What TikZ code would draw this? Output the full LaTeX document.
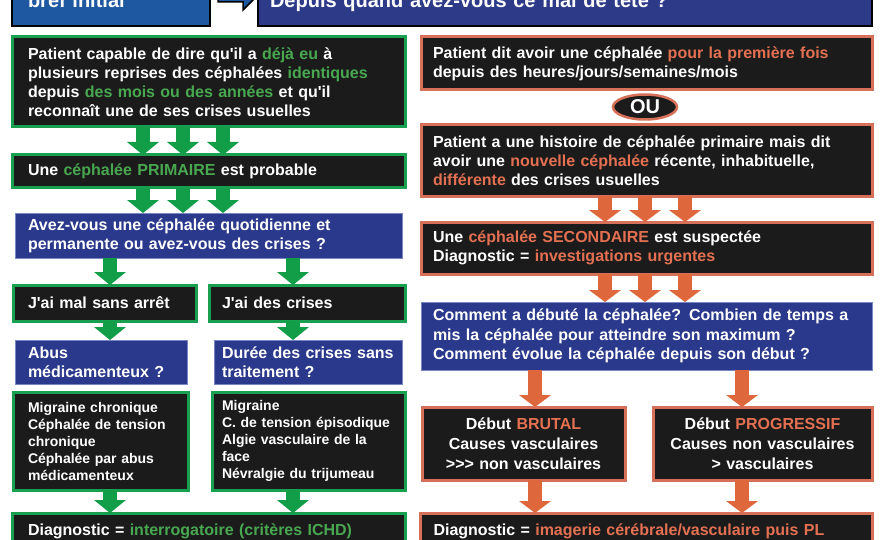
\documentclass[tikz,border=0pt]{standalone}
\usepackage{fontspec}
\setmainfont{Liberation Sans}[Ligatures=TeXOff]
\usetikzlibrary{arrows.meta,shapes.geometric}
\definecolor{boxblack}{RGB}{27,27,27}
\definecolor{ggreen}{RGB}{24,160,80}
\definecolor{gtext}{RGB}{72,168,80}
\definecolor{garrowc}{RGB}{18,158,72}
\definecolor{oborder}{RGB}{214,112,88}
\definecolor{otext}{RGB}{228,112,82}
\definecolor{oarrowc}{RGB}{222,104,60}
\definecolor{indigo}{RGB}{42,57,140}
\definecolor{bborder}{RGB}{120,135,195}
\definecolor{hdrleft}{RGB}{30,88,160}
\definecolor{hdrright}{RGB}{44,58,136}
\newcommand{\gtx}[1]{\textcolor{gtext}{#1}}
\newcommand{\otx}[1]{\textcolor{otext}{#1}}
\begin{document}
\begin{tikzpicture}[x=1pt,y=-1pt,
  base/.style={font=\fontsize{16}{19}\selectfont\bfseries, text=white, align=left, inner ysep=0pt, outer sep=0pt},
  gbox/.style={base, draw=ggreen, line width=3pt, fill=boxblack},
  obox/.style={base, draw=oborder, line width=3pt, fill=boxblack},
  bbox/.style={base, draw=bborder, line width=1pt, fill=indigo},
  hbox/.style={base, font=\fontsize{20}{24}\selectfont\bfseries, draw=black, line width=2.5pt},
  garrow/.style={draw=garrowc, line width=14pt, -{Triangle[width=32pt,length=13pt,line width=0pt]}},
  oarrow/.style={draw=oarrowc, line width=14pt, -{Triangle[width=32pt,length=12pt,line width=0pt]}}
]
\useasboundingbox (0,0) rectangle (880,540);
\clip (0,0) rectangle (880,540);
\fill[white] (0,0) rectangle (880,540);

% headers
\node[hbox, fill=hdrleft, minimum width=198, minimum height=50.6, inner xsep=16pt, text width=166pt] (hdrL) at (111,0.7) {bref initial};
\node[hbox, fill=hdrright, minimum width=614, minimum height=48.6, inner xsep=12pt, text width=590pt] (hdrR) at (565,1.7) {Depuis quand avez-vous ce mal de tête ?};
\draw[fill=hdrleft, draw=black, line width=1.5pt, line join=miter]
  (218,-8) -- (243,-8) -- (243,-15) -- (256,-3) -- (243,10) -- (243,2) -- (218,2) -- cycle;

% left column
\node[gbox, minimum width=393, minimum height=90, inner xsep=16pt, text width=361pt] (L1) at (208.5,82)
 {Patient capable de dire qu'il a \gtx{déjà eu} à\\plusieurs reprises des céphalées \gtx{identiques}\\depuis \gtx{des mois ou des années} et qu'il\\reconnaît une de ses crises usuelles};
\node[gbox, minimum width=393, minimum height=33, inner xsep=16pt, text width=361pt] (L2) at (208.5,171.5)
 {Une \gtx{céphalée PRIMAIRE} est probable};
\node[bbox, minimum width=387, minimum height=45, inner xsep=13pt, text width=361pt] (L3) at (208.5,235.5)
 {Avez-vous une céphalée quotidienne et\\permanente ou avez-vous des crises ?};
\node[gbox, minimum width=183, minimum height=36, inner xsep=15pt, text width=153pt] (L4a) at (104.5,303)
 {J'ai mal sans arrêt};
\node[gbox, minimum width=196, minimum height=36, inner xsep=13pt, text width=170pt] (L4b) at (307,303)
 {J'ai des crises};
\node[bbox, minimum width=172, minimum height=44, inner xsep=13pt, text width=146pt] (L5a) at (101,362)
 {Abus\\médicamenteux ?};
\node[bbox, minimum width=188, minimum height=44, inner xsep=8pt, text width=172pt] (L5b) at (308,362)
 {Durée des crises sans\\traitement ?};
\node[gbox, font=\fontsize{14}{17}\selectfont\bfseries, minimum width=175, minimum height=98, inner xsep=15pt, text width=145pt] (L6a) at (100.5,441)
 {Migraine chronique\\Céphalée de tension\\chronique\\Céphalée par abus\\médicamenteux};
\node[gbox, font=\fontsize{14}{17}\selectfont\bfseries, minimum width=193, minimum height=98, inner xsep=10pt, text width=173pt] (L6b) at (308.5,441)
 {Migraine\\C. de tension épisodique\\Algie vasculaire de la\\face\\Névralgie du trijumeau};
\node[gbox, minimum width=393, minimum height=37, inner xsep=16pt, text width=361pt] (L7) at (208.5,531.5)
 {Diagnostic = \gtx{interrogatoire (critères ICHD)}};

% right column
\node[obox, minimum width=451, minimum height=53, inner xsep=12pt, text width=427pt] (R1) at (646.5,63.5)
 {Patient dit avoir une céphalée \otx{pour la première fois}\\depuis des heures/jours/semaines/mois};
\node[base, ellipse, draw=oborder, line width=2.5pt, fill=boxblack, font=\fontsize{20}{20}\selectfont\bfseries, minimum width=64, minimum height=25, inner sep=0pt, align=center] (OU) at (645,107) {OU};
\node[obox, minimum width=451, minimum height=71, inner xsep=12pt, text width=427pt] (R2) at (646.5,160.5)
 {Patient a une histoire de céphalée primaire mais dit\\avoir une \otx{nouvelle céphalée} récente, inhabituelle,\\\otx{différente} des crises usuelles};
\node[obox, minimum width=451, minimum height=52, inner xsep=12pt, text width=427pt] (R3) at (646.5,248)
 {Une \otx{céphalée SECONDAIRE} est suspectée\\Diagnostic = \otx{investigations urgentes}};
\node[bbox, font=\fontsize{16}{19.5}\selectfont\bfseries, minimum width=451, minimum height=68, inner xsep=12pt, text width=427pt] (R4) at (646.5,336)
 {Comment a débuté la céphalée? Combien de temps a\\mis la céphalée pour atteindre son maximum ?\\Comment évolue la céphalée depuis son début ?};
\node[obox, font=\fontsize{16}{20}\selectfont\bfseries, align=center, minimum width=203, minimum height=73, inner xsep=6pt, text width=191pt] (R5a) at (523.5,443.5)
 {Début \otx{BRUTAL}\\Causes vasculaires\\>\kern0pt>\kern0pt> non vasculaires};
\node[obox, font=\fontsize{16}{20}\selectfont\bfseries, align=center, minimum width=219, minimum height=73, inner xsep=6pt, text width=207pt] (R5b) at (762.5,443.5)
 {Début \otx{PROGRESSIF}\\Causes non vasculaires\\> vasculaires};
\node[obox, minimum width=452, minimum height=37, inner xsep=13pt, text width=426pt] (R6) at (646.5,531.5)
 {Diagnostic = \otx{imagerie cérébrale/vasculaire puis PL}};

% arrow columns
\coordinate (ga) at (143,0);
\coordinate (gb) at (183,0);
\coordinate (gc) at (223,0);
\coordinate (gl) at (110,0);
\coordinate (gr) at (293,0);
\coordinate (oa) at (605,0);
\coordinate (ob) at (645,0);
\coordinate (oc) at (685,0);
\coordinate (ol) at (535,0);
\coordinate (orr) at (742,0);

\foreach \c in {ga,gb,gc} {
  \draw[garrow] (L1.south -| \c) -- (L2.north -| \c);
  \draw[garrow] (L2.south -| \c) -- (L3.north -| \c);
}
\draw[garrow] (L3.south -| gl) -- (L4a.north -| gl);
\draw[garrow] (L3.south -| gr) -- (L4b.north -| gr);
\draw[garrow] (L4a.south -| gl) -- (L5a.north -| gl);
\draw[garrow] (L4b.south -| gr) -- (L5b.north -| gr);
\draw[garrow] (L6a.south -| gl) -- (L7.north -| gl);
\draw[garrow] (L6b.south -| gr) -- (L7.north -| gr);

\foreach \c in {oa,ob,oc} {
  \draw[oarrow] (R2.south -| \c) -- (R3.north -| \c);
  \draw[oarrow] (R3.south -| \c) -- (R4.north -| \c);
}
\draw[oarrow] (R4.south -| ol) -- (R5a.north -| ol);
\draw[oarrow] (R4.south -| orr) -- (R5b.north -| orr);
\draw[oarrow] (R5a.south -| ol) -- (R6.north -| ol);
\draw[oarrow] (R5b.south -| orr) -- (R6.north -| orr);
\end{tikzpicture}
\end{document}
